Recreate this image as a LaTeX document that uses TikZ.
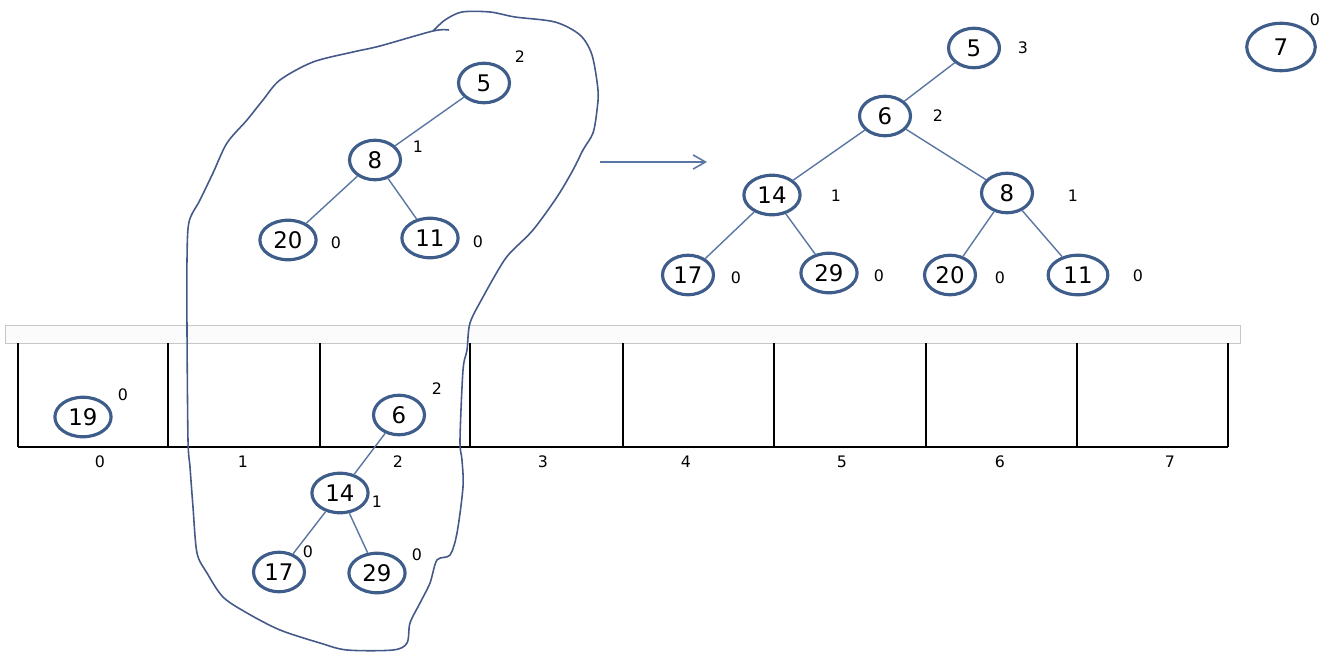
\documentclass[tikz,border=0pt]{standalone}
\usepackage{fontspec}
\setmainfont{DejaVu Sans}
\usetikzlibrary{positioning,arrows.meta,shapes.geometric}
\definecolor{heapblue}{HTML}{3F5D8A}
\definecolor{linkblue}{HTML}{5A76A2}
\definecolor{lassoblue}{HTML}{44598A}

\begin{document}
\begin{tikzpicture}[
x=0.02cm,y=-0.02cm,
hnode/.style={ellipse,draw=heapblue,line width=1.8pt,minimum width=29pt,
minimum height=22.5pt,inner sep=0pt,font=\fontsize{13}{15}\selectfont},
wide/.style={minimum width=32pt},
ht/.style={font=\fontsize{9}{11}\selectfont},
link/.style={draw=linkblue,line width=0.8pt},
cell/.style={line width=1.1pt},
>={Straight Barb[length=7pt,width=8pt]}]

\useasboundingbox (0,0) rectangle (1330,652);

% separator bar
\draw[draw=black!22,fill=black!1.5] (5,325) rectangle (1240,343);

% array cells
\draw[cell] (18,447) -- (1228,447);
\draw[cell] (18,343) -- (18,447);
\draw[cell] (168,343) -- (168,447);
\draw[cell] (320,343) -- (320,447);
\draw[cell] (470,343) -- (470,447);
\draw[cell] (623,343) -- (623,447);
\draw[cell] (774,343) -- (774,447);
\draw[cell] (926,343) -- (926,447);
\draw[cell] (1077,343) -- (1077,447);
\draw[cell] (1228,343) -- (1228,447);

\node[ht] (i0) at (100,462) {0};
\node[ht] (i1) at (243,462) {1};
\node[ht] (i2) at (398,462) {2};
\node[ht] (i3) at (543,462) {3};
\node[ht] (i4) at (686,462) {4};
\node[ht] (i5) at (842,462) {5};
\node[ht] (i6) at (1000,462) {6};
\node[ht] (i7) at (1170,462) {7};

% lasso
\draw[lassoblue,line width=0.9pt] plot[smooth,tension=0.5] coordinates {
(449,30) (433,31) (380,46) (353,52) (313,62) (280,80) (263,100) (247,120)
(227,143) (213,173) (200,200) (189,222) (187,260) (187,330) (188,440)
(190,467) (193,507) (197,553) (207,573) (223,597) (247,613) (280,630)
(320,643) (347,650) (393,650) (407,643) (410,623) (420,603) (430,583)
(437,560) (450,555) (457,533) (463,487) (462,460) (460,440) (463,370)
(467,350) (470,323) (483,297) (500,267) (510,253) (533,230) (557,197)
(573,170) (583,150) (593,133) (597,110) (598,90) (592,55) (580,35)
(555,22) (515,17) (490,12) (462,12) (445,20) (433,31)};

% tree inside the lasso, top
\node[hnode] (l5) at (484,83) {5};
\node[hnode] (l8) at (375,160) {8};
\node[hnode,wide] (l20) at (288,240) {20};
\node[hnode,wide] (l11) at (430,238) {11};
\draw[link] (l5)--(l8);
\draw[link] (l8)--(l20);
\draw[link] (l8)--(l11);
\node[ht] (l5h) at (520,57) {2};
\node[ht] (l8h) at (418,147) {1};
\node[ht] (l20h) at (336,243) {0};
\node[ht] (l11h) at (478,242) {0};

% trees in the array
\node[hnode,wide] (a19) at (83,417) {19};
\node[ht] (a19h) at (123,395) {0};
\node[hnode] (a6) at (399,415) {6};
\node[hnode,wide] (a14) at (340,493) {14};
\node[hnode] (a17) at (279,572) {17};
\node[hnode,wide] (a29) at (377,573) {29};
\draw[link] (a6)--(a14);
\draw[link] (a14)--(a17);
\draw[link] (a14)--(a29);
\node[ht] (a6h) at (437,389) {2};
\node[ht] (a14h) at (377,502) {1};
\node[ht] (a17h) at (308,552) {0};
\node[ht] (a29h) at (417,555) {0};

% arrow
\coordinate (arrs) at (600,162);
\coordinate (arre) at (707,162);
\draw[->,linkblue,line width=0.9pt] (arrs)--(arre);

% merged tree
\node[hnode] (m5) at (974,48) {5};
\node[hnode] (m6) at (885,116) {6};
\node[hnode,wide] (m14) at (772,195) {14};
\node[hnode] (m8) at (1007,193) {8};
\node[hnode] (m17) at (688,275) {17};
\node[hnode,wide] (m29) at (829,273) {29};
\node[hnode] (m20) at (950,275) {20};
\node[hnode,wide,minimum width=34pt] (m11) at (1078,275) {11};
\draw[link] (m5)--(m6);
\draw[link] (m6)--(m14);
\draw[link] (m6)--(m8);
\draw[link] (m14)--(m17);
\draw[link] (m14)--(m29);
\draw[link] (m8)--(m20);
\draw[link] (m8)--(m11);
\node[ht] (m5h) at (1023,48) {3};
\node[ht] (m6h) at (938,116) {2};
\node[ht] (m14h) at (836,196) {1};
\node[ht] (m8h) at (1073,196) {1};
\node[ht] (m17h) at (736,278) {0};
\node[ht] (m29h) at (879,276) {0};
\node[ht] (m20h) at (1000,278) {0};
\node[ht] (m11h) at (1138,276) {0};

% single tree
\node[hnode,minimum width=39pt,minimum height=27pt] (s7) at (1281,47) {7};
\node[ht] (s7h) at (1315,20) {0};

\end{tikzpicture}
\end{document}
